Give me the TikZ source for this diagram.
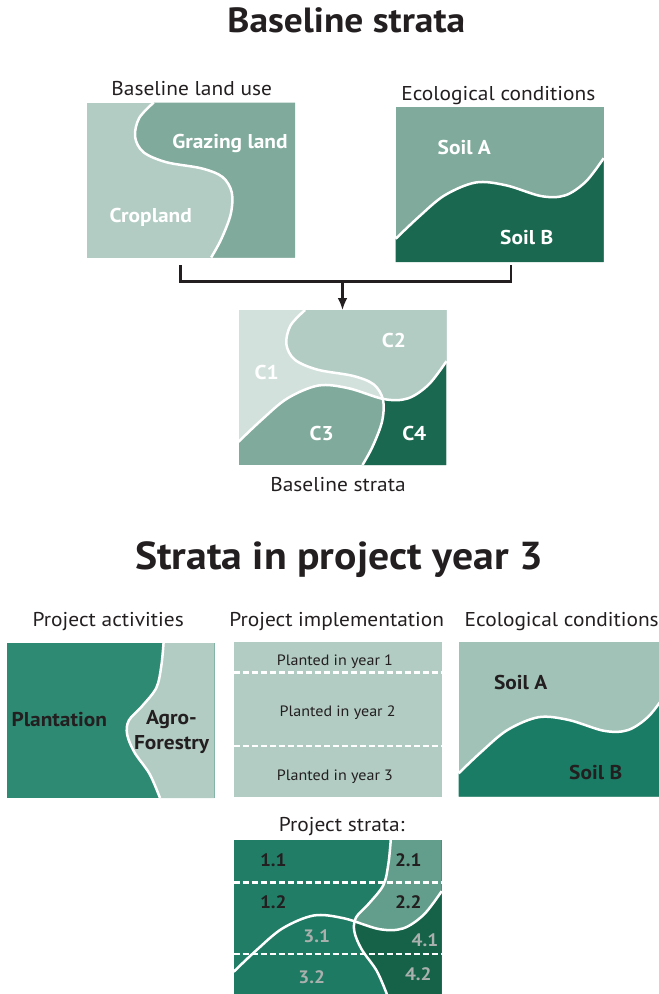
\documentclass[tikz,border=0pt]{standalone}
\usepackage{fontspec}
\setmainfont{PT Sans}[FakeStretch=1.07]
\usepackage{tikz}
\usetikzlibrary{arrows.meta,positioning}
\definecolor{inkdark}{HTML}{231F20}
\definecolor{inkgrey}{HTML}{A9B0AD}
\definecolor{palegreen}{HTML}{D2E1DC}
\definecolor{lightgreen}{HTML}{B2CCC3}
\definecolor{midgreen}{HTML}{80AA9B}
\definecolor{deepgreen}{HTML}{1B6850}
\definecolor{plantgreen}{HTML}{2E8A72}
\definecolor{soilalight}{HTML}{A0C2B7}
\definecolor{soilbgreen}{HTML}{1A7C64}
\definecolor{stratone}{HTML}{217D66}
\definecolor{strattwo}{HTML}{629E8B}
\definecolor{stratthree}{HTML}{1F7A63}
\definecolor{stratfour}{HTML}{156248}
\newcommand{\landline}{plot[smooth,tension=0.55] coordinates {(0.32,0) (0.25,0.10) (0.23,0.22) (0.27,0.32) (0.38,0.385) (0.55,0.425) (0.65,0.48) (0.695,0.58) (0.69,0.72) (0.645,0.88) (0.596,1)}}
\newcommand{\soilline}{plot[smooth,tension=0.55] coordinates {(0,0.85) (0.11,0.71) (0.235,0.57) (0.385,0.487) (0.53,0.505) (0.70,0.575) (0.815,0.57) (0.915,0.48) (1,0.33)}}
\newcommand{\actline}{plot[smooth,tension=0.55] coordinates {(0.755,0) (0.744,0.15) (0.72,0.29) (0.65,0.41) (0.588,0.5) (0.58,0.59) (0.615,0.705) (0.688,0.845) (0.738,1)}}
\begin{document}
\begin{tikzpicture}[x=1pt,y=-1pt,>={Latex[length=12pt,width=10pt]},every node/.style={inner sep=0pt,text=inkdark},heading/.style={font=\bfseries\fontsize{35}{40}\selectfont,anchor=base},caption/.style={font=\fontsize{20}{24}\selectfont,anchor=base},maptag/.style={font=\bfseries\fontsize{20}{25}\selectfont,anchor=base},whitetag/.style={maptag,text=white},rowtag/.style={font=\fontsize{15}{18}\selectfont,anchor=base},stratum/.style={font=\bfseries\fontsize{18}{22}\selectfont,anchor=base},greystratum/.style={stratum,text=inkgrey},mapbox/.style={minimum width=208pt,minimum height=155pt,outer sep=0pt},inbox/.style={shift={(#1.north west)},x=208pt,y=-155pt},rim/.style={white,line width=2.5pt},rowcut/.style={white,line width=2.4pt,dash pattern=on 6pt off 3pt},link/.style={inkdark,line width=2.6pt}]
\useasboundingbox (0,0) rectangle (659,994);
\node[heading] (head1) at (346.3,32.3) {Baseline strata};
\node[mapbox] (luse) at (191.2,180) {};
\node[mapbox] (eco) at (499.7,184.5) {};
\node[mapbox] (bstrata) at (342.5,387.5) {};
\node[caption] (luse-cap) at (191.7,95.7) {Baseline land use};
\node[caption] (eco-cap) at (498.3,100) {Ecological conditions};
\node[caption] (bstrata-cap) at (338,491) {Baseline strata};
\begin{scope}[inbox=luse]
\fill[lightgreen] (0,0) rectangle (1,1);
\fill[midgreen] \landline -- (1,1) -- (1,0) -- cycle;
\draw[rim] \landline;
\end{scope}
\begin{scope}[inbox=eco]
\fill[midgreen] (0,0) rectangle (1,1);
\fill[deepgreen] \soilline -- (1,1) -- (0,1) -- cycle;
\draw[rim] \soilline;
\end{scope}
\begin{scope}[inbox=bstrata]
\fill[palegreen] (0,0) rectangle (1,1);
\fill[lightgreen] \landline -- (1,1) -- (1,0) -- cycle;
\begin{scope}
\clip \soilline -- (1,1) -- (0,1) -- cycle;
\fill[midgreen] (0,0) rectangle (1,1);
\fill[deepgreen] \landline -- (1,1) -- (1,0) -- cycle;
\end{scope}
\draw[rim] \landline;
\draw[rim] \soilline;
\end{scope}
\node[whitetag] (graze) at (230,148.3) {Grazing land};
\node[whitetag] (crop) at (150.7,222.7) {Cropland};
\node[whitetag] (soila) at (464.3,154) {Soil A};
\node[whitetag] (soilb) at (526.7,244) {Soil B};
\node[whitetag] (c1) at (266.7,379.3) {C1};
\node[whitetag] (c2) at (394,347.3) {C2};
\node[whitetag] (c3) at (321.7,440) {C3};
\node[whitetag] (c4) at (414.3,440) {C4};
\coordinate (split) at (342.5,281.7);
\draw[link] ([xshift=-10.5pt,yshift=-7.5pt]luse.south) |- (split) -| ([xshift=11.3pt,yshift=-3pt]eco.south);
\draw[link,->] (split) -- (bstrata.north);
\node[heading,font=\bfseries\fontsize{39}{44}\selectfont] (head2) at (339,569) {Strata in project year 3};
\node[mapbox] (act) at (110.5,720.5) {};
\node[mapbox] (impl) at (337.5,719.8) {};
\node[mapbox] (eco2) at (562.5,719.2) {};
\node[mapbox] (pstrata) at (337.7,917.5) {};
\node[caption] (act-cap) at (108.3,626.7) {Project activities};
\node[caption] (impl-cap) at (336.7,626.7) {Project implementation};
\node[caption] (eco2-cap) at (561.7,626.7) {Ecological conditions};
\node[caption] (pstrata-cap) at (341.7,831) {Project strata:};
\begin{scope}[inbox=act]
\fill[plantgreen] (0,0) rectangle (1,1);
\fill[lightgreen] \actline -- (1,1) -- (1,0) -- cycle;
\draw[rim] \actline;
\end{scope}
\begin{scope}[inbox=impl]
\fill[lightgreen] (0,0) rectangle (1,1);
\draw[rowcut] (0,0.196) -- (1,0.196);
\draw[rowcut] (0,0.669) -- (1,0.669);
\end{scope}
\begin{scope}[inbox=eco2]
\fill[soilalight] (0,0) rectangle (1,1);
\fill[soilbgreen] \soilline -- (1,1) -- (0,1) -- cycle;
\draw[rim] \soilline;
\end{scope}
\begin{scope}[inbox=pstrata]
\fill[stratone] (0,0) rectangle (1,1);
\fill[strattwo] \actline -- (1,1) -- (1,0) -- cycle;
\begin{scope}
\clip \soilline -- (1,1) -- (0,1) -- cycle;
\fill[stratthree] (0,0) rectangle (1,1);
\fill[stratfour] \actline -- (1,1) -- (1,0) -- cycle;
\end{scope}
\draw[rim] \actline;
\draw[rim] \soilline;
\draw[rowcut] (0,0.273) -- (1,0.273);
\draw[rowcut] (0,0.735) -- (1,0.735);
\end{scope}
\node[maptag] (plant) at (59.3,726) {Plantation};
\node[maptag,align=center,anchor=center] (agro) at (171.5,731.7) {Agro-\\Forestry};
\node[rowtag] (year1) at (335,665) {Planted in year 1};
\node[rowtag] (year2) at (337.7,716.7) {Planted in year 2};
\node[rowtag] (year3) at (335,780) {Planted in year 3};
\node[maptag] (soila2) at (520.7,689.3) {Soil A};
\node[maptag] (soilb2) at (595.7,779.3) {Soil B};
\node[stratum] (s11) at (273.3,866.7) {1.1};
\node[stratum] (s21) at (408.3,866.7) {2.1};
\node[stratum] (s12) at (273.3,908.3) {1.2};
\node[stratum] (s22) at (408.3,908.3) {2.2};
\node[greystratum] (s31) at (316.7,942.7) {3.1};
\node[greystratum] (s41) at (425,946) {4.1};
\node[greystratum] (s32) at (311.7,983.3) {3.2};
\node[greystratum] (s42) at (418.3,980) {4.2};
\end{tikzpicture}
\end{document}
